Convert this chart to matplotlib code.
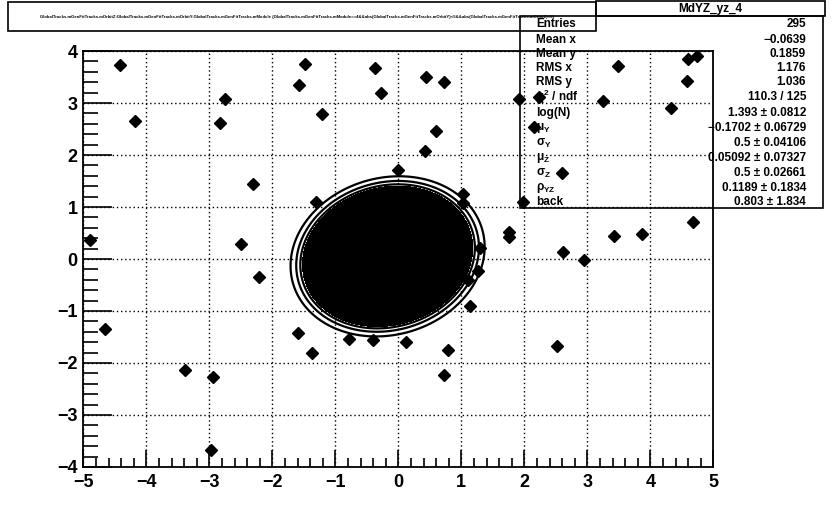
"""
MdYZ_yz_4 : scatter of track orbit Y/Z with 2D gaussian fit contours
"""

import numpy as np
import matplotlib.pyplot as plt
import matplotlib as mpl

mpl.rcParams['font.family'] = ['Liberation Sans', 'DejaVu Sans']
mpl.rcParams['font.weight'] = 'bold'
mpl.rcParams['mathtext.fontset'] = 'custom'
mpl.rcParams['mathtext.rm'] = 'Liberation Sans:bold'
mpl.rcParams['mathtext.it'] = 'Liberation Sans:bold'
mpl.rcParams['mathtext.bf'] = 'Liberation Sans:bold'

# visible entries (outside the fitted core)
pts_y = [-4.42, -4.18, -2.75, -2.83, -2.30,
         -4.90, -4.65, -2.50, -2.21,
         -3.38, -2.94, -2.98,
         -1.48, -1.57, -1.21, -0.37, -0.27, 0.44, 0.73, 0.60, 0.42, 0.00, 1.91,
         1.02, 1.02, -1.30, 1.29, 1.27, 1.11, 1.13,
         -1.60, -1.37, -0.78, -0.40, 0.12, 0.79, 0.73,
         1.98, 1.76, 1.76, 2.62, 2.94, 3.43, 3.87, 4.67, 2.52,
         3.25, 3.49, 4.60, 4.74, 4.58, 4.33, 2.15, 2.24, 2.60]
pts_z = [3.74, 2.65, 3.07, 2.61, 1.44,
         0.36, -1.35, 0.28, -0.34,
         -2.14, -2.27, -3.68,
         3.75, 3.34, 2.78, 3.67, 3.19, 3.51, 3.40, 2.46, 2.08, 1.72, 3.08,
         1.25, 1.07, 1.10, 0.21, -0.24, -0.40, -0.90,
         -1.43, -1.80, -1.53, -1.56, -1.59, -1.75, -2.24,
         1.10, 0.52, 0.42, 0.13, -0.02, 0.44, 0.48, 0.71, -1.67,
         3.04, 3.72, 3.84, 3.90, 3.42, 2.90, 2.53, 3.12, 1.66]

# fit results
mu_y, sig_y = -0.1702, 0.5
mu_z, sig_z = 0.05092, 0.5
rho = 0.1189

stat_labels = ['Entries', 'Mean x', 'Mean y', 'RMS x', 'RMS y',
               r'$\chi^{2}$ / ndf', 'log(N)', r'$\mu_{Y}$', r'$\sigma_{Y}$',
               r'$\mu_{Z}$', r'$\sigma_{Z}$', r'$\rho_{YZ}$', 'back']
stat_values = ['295', '\u22120.0639', '0.1859', '1.176', '1.036',
               '110.3 / 125', '1.393 \u00b1 0.0812', '\u22120.1702 \u00b1 0.06729',
               '0.5 \u00b1 0.04106', '0.05092 \u00b1 0.07327', '0.5 \u00b1 0.02661',
               '0.1189 \u00b1 0.1834', '0.803 \u00b1 1.834']

title = ('GlobalTracks.mGenFitTracks.mOrbitZ:GlobalTracks.mGenFitTracks.mOrbitY:'
         'GlobalTracks.mGenFitTracks.mModule {GlobalTracks.mGenFitTracks.mModule==4'
         '&&abs(GlobalTracks.mGenFitTracks.mOrbitY)<5&&abs(GlobalTracks.mGenFitTracks.mOrbitZ)<5}')

fig = plt.figure(figsize=(8.39, 5.18), dpi=100)
ax = fig.add_axes([0.0993, 0.0985, 0.7509, 0.803])

# gaussian contours (radii in units of sigma)
gy = np.linspace(-5, 5, 600)
gz = np.linspace(-4, 4, 480)
Y, Z = np.meshgrid(gy, gz)
u = (Y - mu_y) / sig_y
v = (Z - mu_z) / sig_z
q = (u**2 - 2*rho*u*v + v**2) / (1 - rho**2)
f = np.exp(-q / 2)

r_lines = [3.08, 2.90, 2.77]
ax.contour(Y, Z, f, levels=sorted(np.exp(-np.array(r_lines)**2 / 2)),
           colors='black', linewidths=1.6, zorder=4)
ax.contourf(Y, Z, f, levels=[np.exp(-2.70**2 / 2), 2], colors='black', zorder=4)

ax.plot(pts_y, pts_z, 'D', color='black', markersize=6.2, zorder=5)

ax.set_xlim(-5, 5)
ax.set_ylim(-4, 4)
ax.set_xticks(np.arange(-5, 6, 1))
ax.set_yticks(np.arange(-4, 5, 1))
ax.set_xticks(np.arange(-5, 5.01, 0.2), minor=True)
ax.set_yticks(np.arange(-4, 4.01, 0.2), minor=True)
ax.grid(True, which='major', color='black', linestyle=(0, (1, 2)), linewidth=1)
ax.tick_params(axis='both', which='both', direction='in', top=False, right=False,
               labelsize=13, width=1.2)
ax.tick_params(axis='x', which='major', length=12.5, pad=5)
ax.tick_params(axis='x', which='minor', length=6.5)
ax.tick_params(axis='y', which='major', length=21, pad=4)
ax.tick_params(axis='y', which='minor', length=10.5)
for lab in ax.get_xticklabels() + ax.get_yticklabels():
    lab.set_fontweight('bold')
for s in ax.spines.values():
    s.set_linewidth(1.3)

# title box
W, H = 839.0, 518.0
def box(x0, y0, x1, y1):
    fig.add_artist(plt.Rectangle((x0 / W, 1 - y1 / H), (x1 - x0) / W, (y1 - y0) / H,
                                 fill=False, edgecolor='black', linewidth=1.2,
                                 transform=fig.transFigure, zorder=10))

box(8, 2, 596, 31)
fig.text(40 / W, 1 - 17 / H, title, fontsize=3.1, va='center', ha='left')

# stats box
box(520, 16, 823, 208)
box(596, 1, 825, 16)
fig.text(710 / W, 1 - 9 / H, 'MdYZ_yz_4', fontsize=8.5, ha='center', va='center')
rows = [24, 40, 54, 68, 82, 97, 113, 128, 143, 158, 173, 188, 202]
for lab, val, ry in zip(stat_labels, stat_values, rows):
    fig.text(536 / W, 1 - ry / H, lab, fontsize=8.5, ha='left', va='center')
    fig.text(806 / W, 1 - ry / H, val, fontsize=8.5, ha='right', va='center')

fig.savefig('out.png', dpi=100)
